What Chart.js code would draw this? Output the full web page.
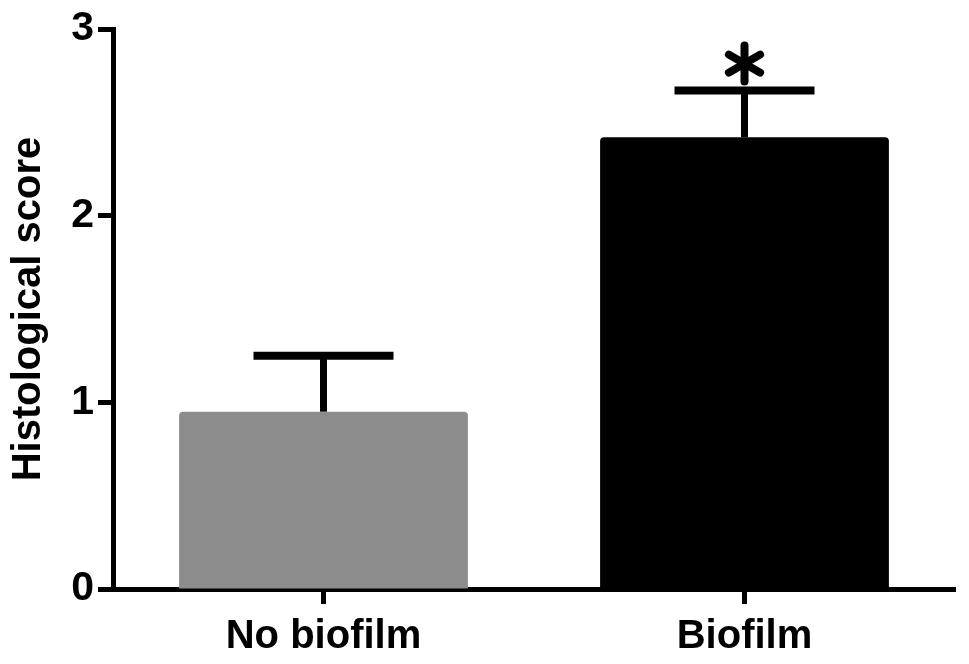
<!DOCTYPE html>
<html>
<head>
<meta charset="utf-8">
<script src="https://cdn.jsdelivr.net/npm/chart.js@4"></script>
<style>
	html, body { margin: 0; padding: 0; background: #fff; }
	#wrap { width: 969px; height: 664px; }
</style>
</head>
<body>
<div id="wrap"><canvas id="chart"></canvas></div>
<script>
// values
const groups = ['No biofilm', 'Biofilm'];
const means = [0.95, 2.42];
const errors = [0.30, 0.25];
const marks = ['', '*'];
const barColors = ['#8c8c8c', '#000000'];
const yTicks = [0, 1, 2, 3];

const FONT = 'Liberation Sans, Arial, sans-serif';

// error bars and significance mark, placed through the scales
const errorBars = {
	id: 'errorBars',
	afterDatasetsDraw(chart) {
		let ctx = chart.ctx;
		let x = chart.scales.x;
		let y = chart.scales.y;
		ctx.save();
		ctx.strokeStyle = '#000';
		for(let i=0; i<groups.length; i++)
		{
			let cx = x.getPixelForValue(i);
			let yTop = y.getPixelForValue(means[i] + errors[i]);
			let yBar = y.getPixelForValue(means[i]);
			ctx.lineCap = 'butt';
			ctx.lineWidth = 7;
			ctx.beginPath();
			ctx.moveTo(cx, yBar);
			ctx.lineTo(cx, yTop);
			ctx.stroke();
			ctx.lineWidth = 8;
			ctx.beginPath();
			ctx.moveTo(cx - 70, yTop);
			ctx.lineTo(cx + 70, yTop);
			ctx.stroke();

			if(marks[i])
			{
				// six armed asterisk above the cap
				let ay = yTop - 27;
				ctx.lineCap = 'round';
				ctx.lineWidth = 8;
				for(let a=0; a<3; a++)
				{
					let ang = Math.PI/2 + a*Math.PI/3;
					let dx = Math.cos(ang)*18, dy = Math.sin(ang)*18;
					ctx.beginPath();
					ctx.moveTo(cx - dx, ay - dy);
					ctx.lineTo(cx + dx, ay + dy);
					ctx.stroke();
				}
			}
		}
		ctx.restore();
	}
};

new Chart(document.getElementById('chart'), {
	type: 'bar',
	data: {
		labels: groups,
		datasets: [{
			data: means,
			backgroundColor: barColors,
			borderRadius: 4,
			barPercentage: 0.686,
			categoryPercentage: 1.0,
		}],
	},
	options: {
		responsive: true,
		maintainAspectRatio: false,
		animation: false,
		layout: { padding: { top: 29, right: 14, left: 0, bottom: 0 } },
		plugins: {
			legend: { display: false },
			tooltip: { enabled: false },
		},
		scales: {
			x: {
				grid: { display: true, drawOnChartArea: false, offset: false, tickLength: 15, tickWidth: 5, tickColor: '#000' },
				border: { display: true, color: '#000', width: 5 },
				ticks: { color: '#000', font: { family: FONT, size: 40, weight: 'bold' }, padding: 9, maxRotation: 0 },
				afterFit(scale) { scale.height = 75; },
			},
			y: {
				min: 0,
				max: 3,
				afterBuildTicks(scale) { scale.ticks = yTicks.map(v => ({value: v})); },
				grid: { display: true, drawOnChartArea: false, tickLength: 15, tickWidth: 5, tickColor: '#000' },
				border: { display: true, color: '#000', width: 5 },
				ticks: { color: '#000', font: { family: FONT, size: 41, weight: 'bold' }, padding: 4 },
				title: {
					display: true,
					text: 'Histological score',
					color: '#000',
					font: { family: FONT, size: 40, weight: 'bold' },
					padding: { top: 5, bottom: 0 },
				},
				afterFit(scale) { scale.width = 113; },
			},
		},
	},
	plugins: [errorBars],
});
</script>
</body>
</html>
